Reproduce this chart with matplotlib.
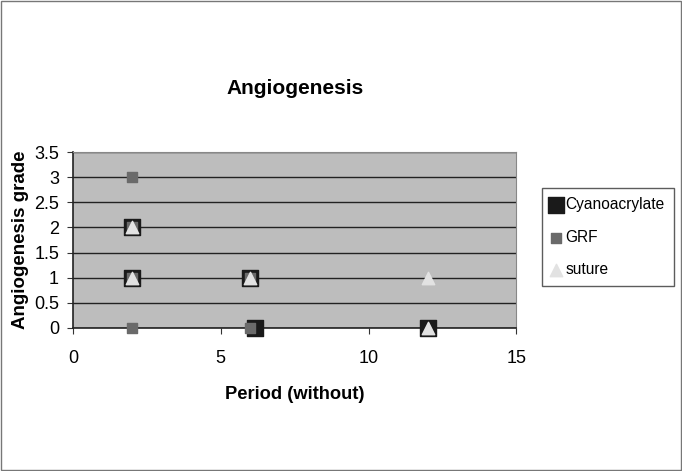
import matplotlib.pyplot as plt
from matplotlib.patches import Rectangle

# data
cyano_x = [2, 2, 6, 6.15, 12]
cyano_y = [2, 1, 1, 0, 0]
grf_x = [2, 2, 2, 2, 6, 6]
grf_y = [3, 2, 1, 0, 1, 0]
suture_x = [2, 2, 6, 12, 12]
suture_y = [2, 1, 1, 1, 0]

plt.rcParams['font.family'] = ['Liberation Sans', 'DejaVu Sans']

fig = plt.figure(figsize=(6.82, 4.71), dpi=100)
ax = fig.add_axes([0.107, 0.304, 0.65, 0.373])
ax.set_facecolor('#bdbdbd')

ax.scatter(cyano_x, cyano_y, marker='s', s=130, color='#1a1a1a', label='Cyanoacrylate',
           zorder=3, clip_on=False)
ax.scatter(grf_x, grf_y, marker='s', s=60, color='#6a6a6a', label='GRF',
           zorder=4, clip_on=False)
ax.scatter(suture_x, suture_y, marker='^', s=80, color='#e2e2e2', label='suture',
           zorder=5, clip_on=False)

ax.set_xlim(0, 15)
ax.set_ylim(0, 3.5)
ax.set_xticks([0, 5, 10, 15])
ax.set_yticks([0, 0.5, 1, 1.5, 2, 2.5, 3, 3.5])
ax.set_yticklabels(['0', '0.5', '1', '1.5', '2', '2.5', '3', '3.5'])
ax.yaxis.grid(True, color='#222222', linewidth=1.0)
ax.set_axisbelow(True)
ax.tick_params(labelsize=13, length=4, color='#333333')
ax.tick_params(axis='x', pad=12)
ax.tick_params(axis='y', pad=6)

for side in ['top', 'right']:
    ax.spines[side].set_color('#888888')
for side in ['left', 'bottom']:
    ax.spines[side].set_color('#222222')
    ax.spines[side].set_linewidth(1.2)

ax.set_title('Angiogenesis', fontsize=15, fontweight='bold', pad=42)
ax.set_xlabel('Period (without)', fontsize=13.2, fontweight='bold', labelpad=14)
ax.set_ylabel('Angiogenesis grade', fontsize=13.5, fontweight='bold', labelpad=4)

leg = ax.legend(loc='upper left', bbox_to_anchor=(1.058, 0.795), frameon=True,
                fancybox=False, edgecolor='#333333', fontsize=11.2,
                handlelength=0.6, handletextpad=0.3, labelspacing=1.1,
                borderpad=0.6, borderaxespad=0.0, markerscale=1.0)
leg.get_frame().set_linewidth(1.0)

fig.patches.append(Rectangle((0.002, 0.002), 0.996, 0.996, transform=fig.transFigure,
                             fill=False, edgecolor='#777777', linewidth=1.0))

fig.savefig('out.png', dpi=100)
